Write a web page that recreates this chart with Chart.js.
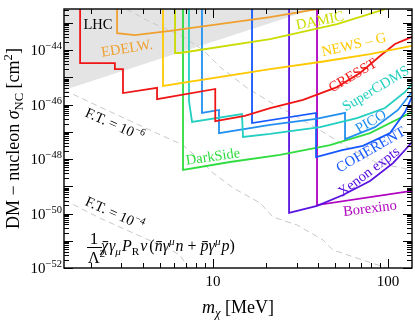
<!DOCTYPE html>
<html>
<head>
<meta charset="utf-8">
<script src="https://cdn.jsdelivr.net/npm/chart.js@4.4.1/dist/chart.umd.min.js"></script>
<style>
  html, body { margin: 0; padding: 0; background: #fff; }
  #wrap { width: 415px; height: 320px; }
</style>
</head>
<body>
<div id="wrap"><canvas id="limits" width="415" height="320"></canvas></div>
<script>
// masses in MeV, cross sections as log10(sigma / cm^2)
const TOP = -42.3; // exclusion edges run up past the frame

const lhcMass = [1.41, 37.3];
const lhcLogSigma = [-45.47, -42.5];

const cresstMass = [1.74, 1.74, 2.75, 2.75, 3.06, 3.06, 4.79, 4.79, 10.3, 10.3, 15.2, 21.2, 32.7, 51.1, 69.2, 90.0, 109.6, 137];
const cresstLogSigma = [TOP, -44.48, -44.48, -44.70, -44.70, -45.58, -45.39, -45.80, -45.43, -46.61, -46.42, -46.13, -45.83, -45.36, -44.84, -44.22, -43.78, -43.52];

const edelMass = [2.83, 2.83, 3.58, 5.68, 21.2, 39.3, 50];
const edelLogSigma = [TOP, -43.38, -43.45, -43.30, -42.79, -42.50, -42.39];

const damicMass = [6.07, 6.07, 6.48, 21.2, 51.1, 96.1, 120];
const damicLogSigma = [TOP, -44.11, -44.11, -43.60, -43.05, -42.50, -42.3];

const newsgMass = [5.18, 5.18, 21.2, 40.9, 78.9, 137];
const newsgLogSigma = [TOP, -45.32, -44.70, -44.44, -44.15, -43.85];

const cdmsMass = [7.29, 7.29, 7.59, 14.64, 14.84, 21.2, 40.9, 66.5, 96.1, 125.1, 137];
const cdmsLogSigma = [TOP, -45.87, -46.64, -46.35, -47.19, -47.08, -46.83, -46.50, -46.13, -45.54, -45.25];

const picoMass = [8.65, 8.65, 10.82, 10.82, 21.2, 38.8, 56.8, 56.8, 84.3, 114, 137];
const picoLogSigma = [TOP, -46.31, -46.20, -47.05, -46.75, -46.53, -46.31, -47.27, -46.83, -46.20, -45.54];

const coherentMass = [16.71, 16.71, 38.8, 38.8, 54.6, 71.9, 102.7, 125.1, 137];
const coherentLogSigma = [TOP, -46.68, -46.31, -47.93, -47.67, -47.52, -47.05, -46.28, -45.72];

const darksideMass = [6.74, 6.74, 12.5, 24.15, 46.6, 78.9, 137];
const darksideLogSigma = [TOP, -48.40, -48.11, -47.85, -47.49, -47.05, -46.28];

const xenonMass = [27.2, 27.2, 39.3, 55.3, 78.9, 106.8, 125.1, 137];
const xenonLogSigma = [TOP, -49.98, -49.72, -49.32, -48.81, -48.15, -47.67, -47.38];

const borexinoMass = [39.3, 39.3, 137];
const borexinoLogSigma = [TOP, -49.69, -49.17];

// fine tuning contours
const ft6Mass = [1.41, 2.26, 4.37, 6.74, 8.43, 10.0, 13.0, 18.56, 22.0, 30.2, 42.5, 48.5, 71.9, 98.7];
const ft6LogSigma = [-45.47, -46.09, -46.94, -47.49, -48.04, -48.51, -49.06, -49.61, -50.13, -50.42, -50.97, -51.34, -51.71, -52.0];
const ft4Mass = [1.41, 2.26, 3.83, 5.32, 6.48, 7.2];
const ft4LogSigma = [-49.50, -50.17, -50.83, -51.23, -51.52, -52.0];
const ftUpperMass = [3.2, 4.37, 6.48, 8.77, 10.96, 15.64, 21.2, 27.5, 40.9, 58.3, 86.5, 137];
const ftUpperLogSigma = [-42.50, -42.97, -43.45, -44.0, -44.62, -45.39, -45.91, -46.31, -46.94, -47.56, -48.15, -48.40];

const xTickValues = [10, 100];
const yTickExponents = [-52, -51, -50, -49, -48, -47, -46, -45, -44, -43];

const FONT = '"Liberation Serif", "Times New Roman", serif';
const C = {
  cresst: '#f01616', edel: '#f0a030', damic: '#cadc00', newsg: '#ffc800',
  cdms: '#22cfc0', pico: '#2390f0', coherent: '#1558ff', darkside: '#30dc40',
  xenon: '#5a12e0', borexino: '#b000c0', ft: '#c8c8c8', lhc: '#e4e4e4'
};

const pts = (ms, ls) => ms.map((m, i) => ({ x: m, y: Math.pow(10, ls[i]) }));

function limitSet(label, ms, ls, color) {
  return { label, data: pts(ms, ls), borderColor: color, borderWidth: 1.8, pointRadius: 0, fill: false, tension: 0, order: 1 };
}
function ftSet(label, ms, ls) {
  return { label, data: pts(ms, ls), borderColor: C.ft, borderWidth: 1, borderDash: [6, 4], pointRadius: 0, fill: false, tension: 0, order: 5 };
}

const curveLabels = [
  { text: 'LHC', m: 2.20, s: -43.08, rot: 0, color: '#000' },
  { text: 'EDELW.', m: 3.23, s: -43.96, rot: -9, color: C.edel },
  { text: 'DAMIC', m: 40.9, s: -42.94, rot: -11, color: C.damic },
  { text: 'NEWS \u2013 G', m: 63.9, s: -43.82, rot: -13, color: C.newsg },
  { text: 'CRESST', m: 63.1, s: -44.95, rot: -30, color: C.cresst },
  { text: 'SuperCDMS', m: 85.4, s: -45.43, rot: -31, color: C.cdms },
  { text: 'PICO', m: 80.0, s: -46.64, rot: -30, color: C.pico },
  { text: 'COHERENT', m: 80.0, s: -47.67, rot: -30, color: C.coherent },
  { text: 'Xenon expts', m: 77.9, s: -48.48, rot: -37, color: C.xenon },
  { text: 'Borexino', m: 78.9, s: -49.83, rot: -7, color: C.borexino },
  { text: 'DarkSide', m: 10.0, s: -47.93, rot: -8, color: C.darkside }
];

// draws a run of text pieces (italic / sub / sup / bar) on the baseline at 0,0
function drawRuns(ctx, runs, size, color, align) {
  let total = 0;
  const parts = runs.map(r => {
    const s = (r.sub || r.sup) ? size * 0.7 : size;
    const font = (r.it ? 'italic ' : '') + s + 'px ' + FONT;
    ctx.font = font;
    const w = ctx.measureText(r.t).width + (r.gap || 0);
    total += w;
    return { r, font, w, dy: r.sub ? size * 0.22 : (r.sup ? -size * 0.4 : 0) };
  });
  let x = align === 'center' ? -total / 2 : (align === 'right' ? -total : 0);
  ctx.fillStyle = color;
  ctx.textAlign = 'left';
  ctx.textBaseline = 'alphabetic';
  parts.forEach(p => {
    ctx.font = p.font;
    ctx.fillText(p.r.t, x, p.dy);
    if (p.r.bar) ctx.fillRect(x + p.w * 0.2, p.dy - size * 0.62, p.w * 0.7, 1);
    x += p.w;
  });
}

const decorations = {
  id: 'decorations',
  afterDatasetsDraw(chart) {
    const { ctx, chartArea: a, scales: { x, y } } = chart;
    ctx.save();

    // inward ticks on all four sides
    ctx.strokeStyle = '#000';
    ctx.lineWidth = 1;
    ctx.beginPath();
    for (let e = -52; e <= -43; e++) {
      for (let k = 1; k <= 9; k++) {
        const v = k * Math.pow(10, e);
        if (v > y.max) continue;
        const py = Math.round(y.getPixelForValue(v)) + 0.5;
        const len = k === 1 ? 9 : 5;
        ctx.moveTo(a.left, py); ctx.lineTo(a.left + len, py);
        ctx.moveTo(a.right, py); ctx.lineTo(a.right - len, py);
      }
    }
    for (let e = 0; e <= 2; e++) {
      for (let k = 1; k <= 9; k++) {
        const v = k * Math.pow(10, e);
        if (v < x.min || v > x.max) continue;
        const px = Math.round(x.getPixelForValue(v)) + 0.5;
        const len = k === 1 ? 9 : 5;
        ctx.moveTo(px, a.bottom); ctx.lineTo(px, a.bottom - len);
        ctx.moveTo(px, a.top); ctx.lineTo(px, a.top + len);
      }
    }
    ctx.stroke();

    ctx.lineWidth = 1.4;
    ctx.strokeRect(a.left, a.top, a.right - a.left, a.bottom - a.top);

    // y tick labels, every second decade
    y.ticks.forEach(t => {
      const e = Math.round(Math.log10(t.value));
      if (e % 2 !== 0) return;
      ctx.save();
      ctx.translate(a.left - 2, y.getPixelForValue(t.value) + 5);
      drawRuns(ctx, [{ t: '10' }, { t: '\u2212' + Math.abs(e), sup: true }], 15, '#000', 'right');
      ctx.restore();
    });

    // labels next to the curves
    curveLabels.forEach(l => {
      ctx.save();
      ctx.translate(x.getPixelForValue(l.m), y.getPixelForValue(Math.pow(10, l.s)));
      ctx.rotate(l.rot * Math.PI / 180);
      ctx.font = '14.5px ' + FONT;
      ctx.fillStyle = l.color;
      ctx.textAlign = 'center';
      ctx.textBaseline = 'middle';
      ctx.fillText(l.text, 0, 0);
      ctx.restore();
    });

    // fine tuning labels
    [[-46.72, '\u22126'], [-49.98, '\u22124']].forEach(([s, p]) => {
      ctx.save();
      ctx.translate(x.getPixelForValue(2.75), y.getPixelForValue(Math.pow(10, s)));
      ctx.rotate(24 * Math.PI / 180);
      ctx.translate(0, 5);
      drawRuns(ctx, [{ t: 'F.T. = 10' }, { t: p, sup: true }], 14.5, '#000', 'center');
      ctx.restore();
    });

    // operator
    const fx = x.getPixelForValue(2.09);
    const fy = y.getPixelForValue(Math.pow(10, -51.23));
    ctx.save();
    ctx.fillStyle = '#000';
    ctx.font = '17px ' + FONT;
    ctx.textAlign = 'center';
    ctx.textBaseline = 'alphabetic';
    ctx.fillText('1', fx, fy - 3);
    ctx.fillRect(fx - 7, fy, 15, 1);
    ctx.restore();
    ctx.save();
    ctx.translate(fx - 6, fy + 16);
    drawRuns(ctx, [{ t: '\u039b' }, { t: '2', sup: true }], 16, '#000', 'left');
    ctx.restore();
    ctx.save();
    ctx.translate(fx + 7, fy + 4);
    drawRuns(ctx, [
      { t: '\u03c7', it: true, bar: true, gap: 1 }, { t: '\u03b3', it: true }, { t: '\u03bc', it: true, sub: true, gap: 1 },
      { t: 'P', it: true }, { t: 'R', sub: true, gap: 1 }, { t: '\u03bd', it: true, gap: 2 },
      { t: '(' }, { t: 'n', it: true, bar: true }, { t: '\u03b3', it: true }, { t: '\u03bc', it: true, sup: true, gap: 1 },
      { t: 'n', it: true }, { t: ' + ' }, { t: 'p', it: true, bar: true }, { t: '\u03b3', it: true },
      { t: '\u03bc', it: true, sup: true, gap: 1 }, { t: 'p', it: true }, { t: ')' }
    ], 16, '#000', 'left');
    ctx.restore();

    // axis titles
    ctx.save();
    ctx.translate(19, (a.top + a.bottom) / 2);
    ctx.rotate(-Math.PI / 2);
    drawRuns(ctx, [{ t: 'DM \u2212 nucleon ' }, { t: '\u03c3', it: true }, { t: 'NC', sub: true }, { t: ' [cm' }, { t: '2', sup: true }, { t: ']' }], 18, '#000', 'center');
    ctx.restore();
    ctx.save();
    ctx.translate((a.left + a.right) / 2, 313);
    drawRuns(ctx, [{ t: 'm', it: true }, { t: '\u03c7', it: true, sub: true }, { t: ' [MeV]' }], 18, '#000', 'center');
    ctx.restore();

    ctx.restore();
  }
};

new Chart(document.getElementById('limits').getContext('2d'), {
  type: 'line',
  data: {
    datasets: [
      { label: 'LHC', data: pts(lhcMass, lhcLogSigma), borderWidth: 0, borderColor: C.lhc, backgroundColor: C.lhc, pointRadius: 0, fill: 'end', order: 10 },
      ftSet('F.T. upper', ftUpperMass, ftUpperLogSigma),
      ftSet('F.T. 1e-6', ft6Mass, ft6LogSigma),
      ftSet('F.T. 1e-4', ft4Mass, ft4LogSigma),
      limitSet('EDELWEISS', edelMass, edelLogSigma, C.edel),
      limitSet('DAMIC', damicMass, damicLogSigma, C.damic),
      limitSet('NEWS-G', newsgMass, newsgLogSigma, C.newsg),
      limitSet('CRESST', cresstMass, cresstLogSigma, C.cresst),
      limitSet('SuperCDMS', cdmsMass, cdmsLogSigma, C.cdms),
      limitSet('PICO', picoMass, picoLogSigma, C.pico),
      limitSet('COHERENT', coherentMass, coherentLogSigma, C.coherent),
      limitSet('DarkSide', darksideMass, darksideLogSigma, C.darkside),
      limitSet('Xenon expts', xenonMass, xenonLogSigma, C.xenon),
      limitSet('Borexino', borexinoMass, borexinoLogSigma, C.borexino)
    ]
  },
  options: {
    responsive: false,
    animation: false,
    devicePixelRatio: 1,
    layout: { padding: { top: 9, right: 3, left: 0, bottom: 0 } },
    plugins: { legend: { display: false }, tooltip: { enabled: false } },
    scales: {
      x: {
        type: 'logarithmic',
        min: 1.408, max: 137.1,
        grid: { display: false, drawTicks: false },
        border: { display: false },
        afterBuildTicks: s => { s.ticks = xTickValues.map(v => ({ value: v })); },
        afterFit: s => { s.height = 52; },
        ticks: {
          autoSkip: false, maxRotation: 0, minRotation: 0, padding: 5,
          color: '#000', font: { family: FONT, size: 15 },
          callback: v => String(v)
        }
      },
      y: {
        type: 'logarithmic',
        min: 1e-52, max: Math.pow(10, -42.495),
        grid: { display: false, drawTicks: false },
        border: { display: false },
        afterBuildTicks: s => { s.ticks = yTickExponents.map(e => ({ value: Math.pow(10, e) })); },
        afterFit: s => { s.width = 64; },
        ticks: { display: false }
      }
    }
  },
  plugins: [decorations]
});
</script>
</body>
</html>
